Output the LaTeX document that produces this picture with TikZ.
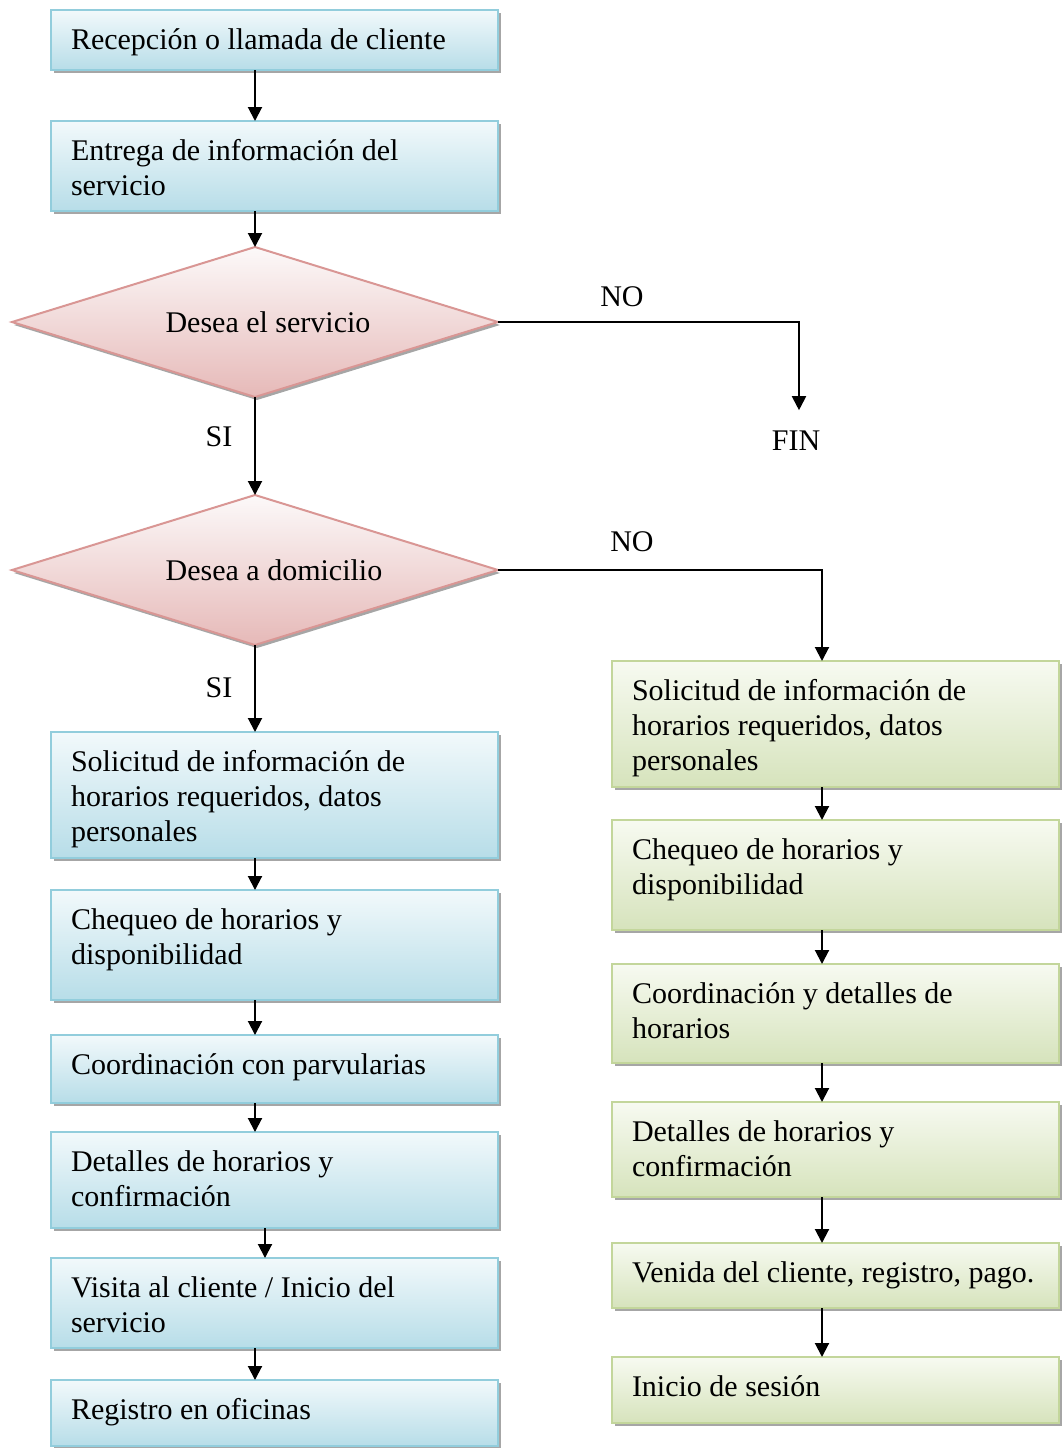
\documentclass[tikz,border=0pt]{standalone}
\usepackage{fontspec}
\setmainfont{Liberation Serif}
\usetikzlibrary{shapes.geometric,shadows,arrows.meta}

\definecolor{blueedge}{RGB}{146,205,220}
\definecolor{bluetop}{RGB}{242,249,251}
\definecolor{bluebot}{RGB}{183,221,232}
\definecolor{greenedge}{RGB}{195,214,155}
\definecolor{greentop}{RGB}{247,250,241}
\definecolor{greenbot}{RGB}{214,227,188}
\definecolor{rededge}{RGB}{217,150,148}
\definecolor{redtop}{RGB}{252,249,249}
\definecolor{redbot}{RGB}{230,185,184}

\begin{document}
\begin{tikzpicture}[
            x = 0.5pt, y = -0.5pt, % one unit = one pixel of the sketch
            > = {Triangle[width=7pt,length=7pt]}, % arrow head style
            line width = 1pt,
            font = \fontsize{15pt}{17.5pt}\selectfont
        ]

        \tikzstyle{stepbox}=[
            rectangle,
            anchor = north west,
            align = flush left,
            text width = 203.5pt,
            inner xsep = 10pt,
            inner ysep = 0pt,
            outer sep = 0pt,
            text height = 19.5pt,
            drop shadow = {shadow xshift=1.5pt, shadow yshift=-1.5pt, opacity=1, fill=black!35}
        ]
        \tikzstyle{bluebox}=[stepbox, draw = blueedge, top color = bluetop, bottom color = bluebot]
        \tikzstyle{greenbox}=[stepbox, draw = greenedge, top color = greentop, bottom color = greenbot]
        \tikzstyle{decision}=[
            diamond,
            aspect = 3.24,
            draw = rededge,
            top color = redtop,
            bottom color = redbot,
            minimum width = 243pt,
            minimum height = 75pt,
            inner sep = 0pt,
            outer sep = 0pt,
            drop shadow = {shadow xshift=1pt, shadow yshift=-1.5pt, opacity=1, fill=black!35}
        ]

    \useasboundingbox (0,0) rectangle (1062,1448);

    % Define the nodes and their positions
    \node[bluebox, text depth=10.5pt] (recep) at (51,10) {Recepción o llamada de cliente};
    \node[bluebox, text depth=25.5pt] (entrega) at (51,121) {Entrega de información del\\servicio};
    \node[decision] (desea) at (255,322) {\hspace*{13pt}Desea el servicio};
    \node[decision] (domic) at (255,570) {\hspace*{19pt}Desea a domicilio};

    \node[bluebox, text depth=43.5pt] (solic) at (51,732) {Solicitud de información de\\horarios requeridos, datos\\personales};
    \node[bluebox, text depth=35.5pt] (cheq) at (51,890) {Chequeo de horarios y\\disponibilidad};
    \node[bluebox, text depth=14.5pt] (coord) at (51,1035) {Coordinación con parvularias};
    \node[bluebox, text depth=28.5pt] (detal) at (51,1132) {Detalles de horarios y\\confirmación};
    \node[bluebox, text depth=25.5pt] (visita) at (51,1258) {Visita al cliente / Inicio del\\servicio};
    \node[bluebox, text depth=13.5pt] (regis) at (51,1380) {Registro en oficinas};

    \node[greenbox, text depth=43.5pt] (solicB) at (612,661) {Solicitud de información de\\horarios requeridos, datos\\personales};
    \node[greenbox, text depth=35.5pt] (cheqB) at (612,820) {Chequeo de horarios y\\disponibilidad};
    \node[greenbox, text depth=30pt] (coordB) at (612,964) {Coordinación y detalles de\\horarios};
    \node[greenbox, text depth=28pt] (detalB) at (612,1102) {Detalles de horarios y\\confirmación};
    \node[greenbox, text depth=13pt] (venida) at (612,1243) {Venida del cliente, registro, pago.};
    \node[greenbox, text depth=13.5pt] (inicio) at (612,1357) {Inicio de sesión};

    \node[inner sep=10pt] (fin) at (796,441) {FIN};
    \node (no1) at (622,297) {NO};
    \node (no2) at (632,542) {NO};
    \node (si1) at (219,437) {SI};
    \node (si2) at (219,688) {SI};

    \coordinate (c1) at (799,322);
    \coordinate (c2) at (822,570);

    % Draw edges between nodes
    \draw[->] (recep.south -| desea) -- (entrega.north -| desea);
    \draw[->] (entrega.south -| desea) -- (desea.north);
    \draw[->] (desea.south) -- (domic.north);
    \draw[->] (domic.south) -- (solic.north -| domic);
    \draw[->] (solic.south -| domic) -- (cheq.north -| domic);
    \draw[->] (cheq.south -| domic) -- (coord.north -| domic);
    \draw[->] (coord.south -| domic) -- (detal.north -| domic);
    \draw[->] ([xshift=5pt]detal.south -| domic) -- ([xshift=5pt]visita.north -| domic);
    \draw[->] (visita.south -| domic) -- (regis.north -| domic);

    \draw[->] (desea.east) -- (c1) -- (fin.north -| c1);
    \draw[->] (domic.east) -- (c2) -- (solicB.north -| c2);
    \draw[->] (solicB.south -| c2) -- (cheqB.north -| c2);
    \draw[->] (cheqB.south -| c2) -- (coordB.north -| c2);
    \draw[->] (coordB.south -| c2) -- (detalB.north -| c2);
    \draw[->] (detalB.south -| c2) -- (venida.north -| c2);
    \draw[->] (venida.south -| c2) -- (inicio.north -| c2);
\end{tikzpicture}
\end{document}
